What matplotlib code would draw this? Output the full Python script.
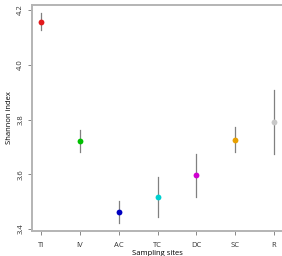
import matplotlib
matplotlib.use("Agg")
import matplotlib.pyplot as plt

sites = ["TI", "IV", "AC", "TC", "DC", "SC", "R"]
means = [4.156, 3.721, 3.461, 3.516, 3.597, 3.725, 3.790]
lower = [4.127, 3.681, 3.421, 3.443, 3.516, 3.681, 3.673]
upper = [4.189, 3.761, 3.502, 3.589, 3.673, 3.772, 3.907]
colors = ["#e31a1c", "#00c000", "#0000c0", "#00d0d0", "#d000d0", "#e8a000", "#c8c8c8"]

plt.rcParams['font.family'] = ['Open Sans', 'DejaVu Sans']
fig = plt.figure(figsize=(2.82, 2.56), dpi=100)
ax = fig.add_axes([32/282, 1-231/256, 1-32/282, (231-5)/256])

xs = list(range(1, len(sites)+1))
for x, m, lo, hi, c in zip(xs, means, lower, upper, colors):
    ax.plot([x, x], [lo, hi], color="#808080", lw=0.9, zorder=2)
    ax.plot(x, m, 'o', color=c, markersize=4.2, markeredgewidth=0, zorder=3)

ax.set_xlim(0.768, 7.206)
ax.set_ylim(3.393, 4.218)
ax.set_xticks(xs)
ax.set_xticklabels(sites)
ax.set_yticks([3.4, 3.6, 3.8, 4.0, 4.2])
ax.set_yticklabels(["3.4", "3.6", "3.8", "4.0", "4.2"], rotation=90, va="center")
for s in ["left", "bottom", "top"]:
    ax.spines[s].set_color("#b4b4b4")
    ax.spines[s].set_linewidth(1.4)
ax.spines["right"].set_visible(False)
ax.tick_params(axis="both", colors="#888888", labelcolor="#333333", labelsize=5.5, length=3, width=0.7, pad=2.5)
ax.tick_params(axis="x", pad=5)
ax.set_xlabel("Sampling sites", fontsize=5.5, labelpad=0.5)
ax.set_ylabel("Shannon index", fontsize=5.5, labelpad=3)
fig.savefig("out.png", dpi=100)
